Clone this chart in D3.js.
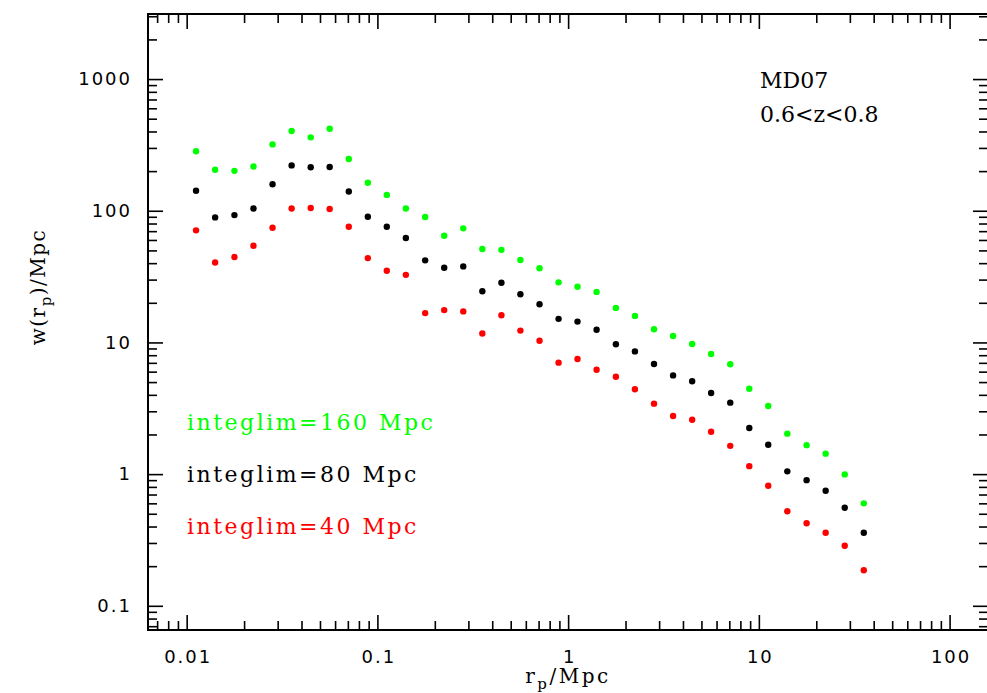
<!DOCTYPE html>
<html>
<head>
<meta charset="utf-8">
<script src="https://cdn.jsdelivr.net/npm/d3@7"></script>
<style>
  body { margin: 0; background: #fff; }
  svg { display: block; }
  .tick line { stroke: #000; stroke-width: 1.6; }
  .tick text { letter-spacing: 2px; }
  .serif { font-family: "DejaVu Serif", serif; }
</style>
</head>
<body>
<div id="chart"></div>
<script>
// projected separation bins (Mpc)
const rp = [0.0112, 0.0141, 0.0178, 0.0224, 0.0282, 0.0355, 0.0447, 0.0562, 0.0708, 0.0891,
            0.112, 0.141, 0.178, 0.224, 0.282, 0.355, 0.447, 0.562, 0.708, 0.891,
            1.12, 1.41, 1.78, 2.24, 2.82, 3.55, 4.47, 5.62, 7.08, 8.91,
            11.2, 14.1, 17.8, 22.4, 28.2, 35.5];

// w(rp) for the three integration limits
const wp160 = [283, 205, 201, 217, 319, 403, 361, 420, 247, 163,
               132, 104, 89.6, 64.6, 73.5, 51.2, 50.5, 42.3, 36.6, 28.6,
               26.5, 24.2, 18.3, 15.9, 12.6, 11.2, 9.73, 8.17, 6.82, 4.45,
               3.29, 2.03, 1.66, 1.43, 0.995, 0.600];
const wp80 = [142, 89, 92.7, 104, 159, 221, 214, 215, 140, 90,
              75.6, 62.1, 42.0, 36.9, 37.8, 24.5, 28.4, 23.2, 19.5, 15.1,
              14.4, 12.5, 9.68, 8.55, 6.86, 5.62, 5.07, 4.13, 3.49, 2.24,
              1.67, 1.05, 0.90, 0.748, 0.556, 0.359];
const wp40 = [71, 40.5, 44.5, 54.2, 74.3, 104, 105, 103, 75.6, 43.7,
              35.0, 32.6, 16.7, 17.6, 17.2, 11.7, 16.1, 12.3, 10.3, 7.02,
              7.48, 6.21, 5.49, 4.41, 3.43, 2.76, 2.59, 2.10, 1.64, 1.15,
              0.817, 0.522, 0.423, 0.359, 0.286, 0.186];

const seriesNames = ["integlim=160 Mpc", "integlim=80 Mpc", "integlim=40 Mpc"];
const seriesColors = ["#00ff00", "#000000", "#ff0000"];
const seriesValues = [wp160, wp80, wp40];

const xMajor = [0.01, 0.1, 1, 10, 100];
const yMajor = [0.1, 1, 10, 100, 1000];

const width = 987, height = 693;
const mLeft = 148, mRight = 988, mTop = 14, mBottom = 630;

const x = d3.scaleLog().domain([0.00627, 159]).range([mLeft, mRight]);
const y = d3.scaleLog().domain([0.0655, 3120]).range([mBottom, mTop]);

const svg = d3.select("#chart").append("svg")
    .attr("width", width)
    .attr("height", height);

const fmt = d3.format("~g");
const xMinor = x.ticks().filter(v => xMajor.indexOf(v) < 0);
const yMinor = y.ticks().filter(v => yMajor.indexOf(v) < 0);

function addAxis(axis, tx, ty) {
    const g = svg.append("g").attr("transform", "translate(" + tx + "," + ty + ")").call(axis);
    g.select(".domain").remove();
    g.attr("font-family", "DejaVu Sans, sans-serif").attr("font-size", 18);
    g.selectAll(".tick text").attr("fill", "#000");
    return g;
}

// bottom / top
addAxis(d3.axisBottom(x).tickValues(xMajor).tickSizeInner(-15).tickSizeOuter(0).tickPadding(20).tickFormat(fmt), 0, mBottom)
    .selectAll(".tick text").attr("dx", 1);
addAxis(d3.axisBottom(x).tickValues(xMinor).tickSizeInner(-9).tickSizeOuter(0).tickFormat(""), 0, mBottom);
addAxis(d3.axisTop(x).tickValues(xMajor).tickSizeInner(-15).tickSizeOuter(0).tickFormat(""), 0, mTop);
addAxis(d3.axisTop(x).tickValues(xMinor).tickSizeInner(-9).tickSizeOuter(0).tickFormat(""), 0, mTop);
// left / right
addAxis(d3.axisLeft(y).tickValues(yMajor).tickSizeInner(-15).tickSizeOuter(0).tickPadding(16).tickFormat(fmt), mLeft, 0);
addAxis(d3.axisLeft(y).tickValues(yMinor).tickSizeInner(-9).tickSizeOuter(0).tickFormat(""), mLeft, 0);
addAxis(d3.axisRight(y).tickValues(yMajor).tickSizeInner(-15).tickSizeOuter(0).tickFormat(""), mRight, 0);
addAxis(d3.axisRight(y).tickValues(yMinor).tickSizeInner(-9).tickSizeOuter(0).tickFormat(""), mRight, 0);

svg.append("rect")
    .attr("x", mLeft).attr("y", mTop)
    .attr("width", mRight - mLeft).attr("height", mBottom - mTop)
    .attr("fill", "none").attr("stroke", "#000").attr("stroke-width", 2);

// points
seriesValues.forEach(function (vals, i) {
    svg.append("g").selectAll("circle")
        .data(vals)
        .enter()
        .append("circle")
        .attr("cx", (d, j) => x(rp[j]))
        .attr("cy", d => y(d))
        .attr("r", 3.2)
        .attr("fill", seriesColors[i]);
});

// axis titles
const xt = svg.append("text").attr("class", "serif")
    .attr("x", (mLeft + mRight) / 2).attr("y", 683)
    .attr("text-anchor", "middle")
    .style("font-size", "20px").style("letter-spacing", "2.5px");
xt.append("tspan").text("r");
xt.append("tspan").attr("dy", 6).style("font-size", "15px").text("p");
xt.append("tspan").attr("dy", -6).text("/Mpc");

const yt = svg.append("text").attr("class", "serif")
    .attr("transform", "translate(45,287) rotate(-90)")
    .attr("text-anchor", "middle")
    .style("font-size", "20px").style("letter-spacing", "1.5px");
yt.append("tspan").text("w(r");
yt.append("tspan").attr("dy", 6).style("font-size", "15px").text("p");
yt.append("tspan").attr("dy", -6).text(")/Mpc");

// annotation
svg.append("text").attr("class", "serif")
    .attr("x", 760).attr("y", 88).style("font-size", "22px").text("MD07");
svg.append("text").attr("class", "serif")
    .attr("x", 760).attr("y", 122).style("font-size", "22px").text("0.6<z<0.8");

// legend labels
const legendY = [430, 482, 534];
seriesNames.forEach(function (name, i) {
    svg.append("text").attr("class", "serif")
        .attr("x", 187).attr("y", legendY[i])
        .attr("fill", seriesColors[i])
        .style("font-size", "22px").style("letter-spacing", "2.5px")
        .text(name);
});
</script>
</body>
</html>
